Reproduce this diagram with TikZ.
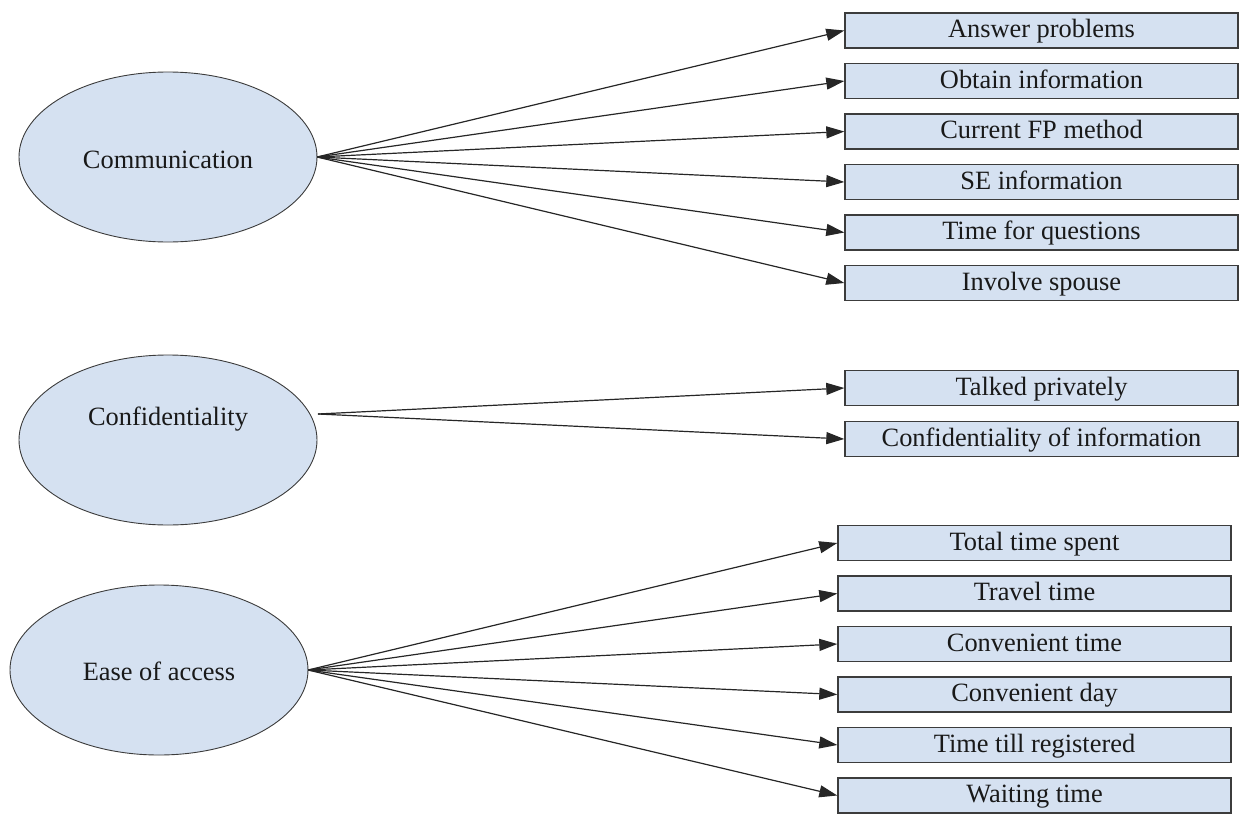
\documentclass[tikz,border=0pt]{standalone}
\usepackage{fontspec}
\setmainfont{Liberation Serif}
\usetikzlibrary{arrows.meta,shapes.geometric}
\definecolor{fillblue}{RGB}{213,225,241}
\definecolor{edgegray}{RGB}{60,60,60}
\tikzset{
  catnode/.style={ellipse, draw=edgegray, line width=0.9pt, fill=fillblue,
    minimum width=298pt, minimum height=170pt, inner sep=0pt},
  itembox/.style={rectangle, draw=edgegray, line width=1.4pt, fill=fillblue,
    minimum width=393pt, text height=24.5pt, text depth=10.5pt, inner sep=0pt},
  lbl/.style={font=\fontsize{26.4}{30}\selectfont, text=black!90},
  conn/.style={line width=1.2pt, draw=black!85, -{Triangle[length=18pt,width=12pt]}}
}
\begin{document}
\begin{tikzpicture}[x=1pt,y=-1pt]
\useasboundingbox (0,0) rectangle (1243,814);
% categories
\node[catnode] (comm) at (168,157) {};
\node[lbl,anchor=base] (commt) at (168,168) {Communication};
\node[catnode] (conf) at (168,440) {};
\node[lbl,anchor=base] (conft) at (168,425) {Confidentiality};
\node[catnode] (ease) at (159,670) {};
\node[lbl,anchor=base] (easet) at (159,680) {Ease of access};
\coordinate (commo) at (317,157);
\coordinate (confo) at (318,414);
\coordinate (easeo) at (308,670);
% communication items
\node[itembox,lbl] (c1) at (1041.5,30.5) {Answer problems};
\node[itembox,lbl] (c2) at (1041.5,81) {Obtain information};
\node[itembox,lbl] (c3) at (1041.5,131.5) {Current FP method};
\node[itembox,lbl] (c4) at (1041.5,182) {SE information};
\node[itembox,lbl] (c5) at (1041.5,232.5) {Time for questions};
\node[itembox,lbl] (c6) at (1041.5,283) {Involve spouse};
% confidentiality items
\node[itembox,lbl] (f1) at (1041.5,388) {Talked privately};
\node[itembox,lbl] (f2) at (1041.5,439) {Confidentiality of information};
% ease items
\node[itembox,lbl] (e1) at (1034.5,543) {Total time spent};
\node[itembox,lbl] (e2) at (1034.5,593.5) {Travel time};
\node[itembox,lbl] (e3) at (1034.5,644) {Convenient time};
\node[itembox,lbl] (e4) at (1034.5,694.5) {Convenient day};
\node[itembox,lbl] (e5) at (1034.5,745) {Time till registered};
\node[itembox,lbl] (e6) at (1034.5,795.5) {Waiting time};
% connectors
\foreach \t in {c1,c2,c3,c4,c5,c6} \draw[conn] (commo) -- (\t.west);
\foreach \t in {f1,f2} \draw[conn] (confo) -- (\t.west);
\foreach \t in {e1,e2,e3,e4,e5,e6} \draw[conn] (easeo) -- (\t.west);
\end{tikzpicture}
\end{document}
